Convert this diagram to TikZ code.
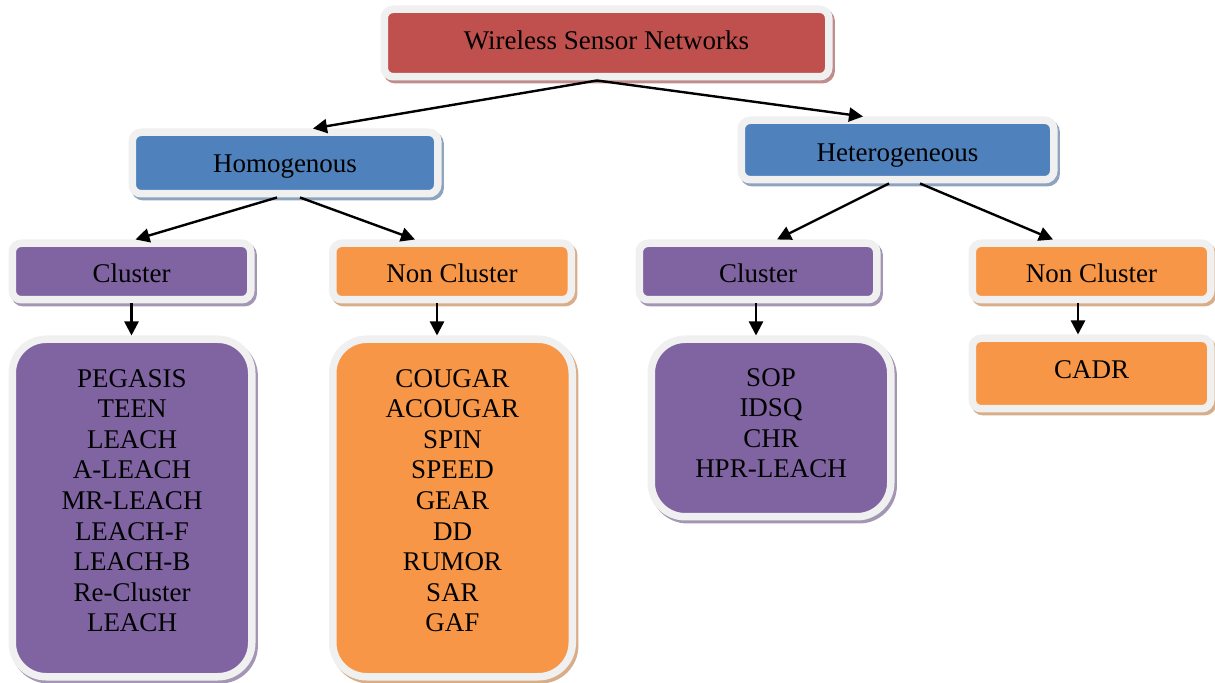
\documentclass[tikz,border=0pt]{standalone}
\usepackage{fontspec}
\setmainfont{Liberation Serif}
\usetikzlibrary{arrows.meta,calc}
\definecolor{wsnred}{HTML}{C0504D}
\definecolor{wsnblue}{HTML}{4F81BD}
\definecolor{wsnpurple}{HTML}{8064A2}
\definecolor{wsnorange}{HTML}{F79646}
\definecolor{wsnframe}{HTML}{F0F0F0}
\newcommand\padbelow[1]{\rule[-#1]{0pt}{#1}}
\begin{document}
\begin{tikzpicture}[x=0.5pt,y=-0.5pt,
	box/.style={draw=wsnframe,line width=3.75pt,fill=#1,inner sep=0pt,align=center,
		font=\fontsize{13.5}{15.3}\selectfont,
		preaction={draw=#1!45!lightgray,line width=3.75pt,transform canvas={xshift=1.2pt,yshift=-1.5pt}}},
	tag/.style={box=#1,rounded corners=4.5pt,minimum width=119.25pt,minimum height=28.25pt,text height=12.4pt,text depth=1pt},
	listbox/.style={box=#1,rounded corners=17pt,minimum width=119.75pt},
	arr/.style={-{Triangle[length=7pt,width=7pt]},line width=1.2pt}]
				\useasboundingbox (0,0) rectangle (1215,683);
				% top level
				\node[tag=wsnred,minimum width=222.25pt,minimum height=33.75pt,text height=9.9pt,text depth=3pt] (wsn) at (606.5,43){Wireless Sensor Networks};
				\node[tag=wsnblue,minimum width=152.75pt,minimum height=30.75pt,text height=11pt,text depth=1.1pt] (homo) at (285,163){Homogenous};
				\node[tag=wsnblue,minimum width=156.25pt,minimum height=29.75pt] (hetero) at (897.5,150){Heterogeneous};
				% second level
				\node[tag=wsnpurple] (homcl) at (131.5,271.5){Cluster};
				\node[tag=wsnorange] (homncl) at (452,271.5){Non Cluster};
				\node[tag=wsnpurple,minimum width=118.75pt] (hetcl) at (758,271.5){Cluster};
				\node[tag=wsnorange] (hetncl) at (1091.5,271.5){Non Cluster};
				% protocols
				\node[listbox=wsnpurple,minimum height=168.75pt] (homcllist) at (132,508)
					{PEGASIS\\TEEN\\LEACH\\A-LEACH\\MR-LEACH\\LEACH-F\\LEACH-B\\Re-Cluster\\LEACH\padbelow{7.5pt}};
				\node[listbox=wsnorange,minimum height=168.75pt] (homncllist) at (452.5,508)
					{COUGAR\\ACOUGAR\\SPIN\\SPEED\\GEAR\\DD\\RUMOR\\SAR\\GAF\padbelow{7.5pt}};
				\node[listbox=wsnpurple,minimum height=88.75pt] (hetcllist) at (771,428)
					{SOP\\IDSQ\\CHR\\HPR-LEACH\padbelow{5pt}};
				\node[tag=wsnorange,minimum height=35.25pt,text height=8.4pt,text depth=3pt] (hetncllist) at (1091.5,373.5){CADR};
				% arrows
				\draw[arr] ($(wsn.south)+(-9.5,0)$)--($(homo.north)+(28,0)$);
				\draw[arr] ($(wsn.south)+(-9.5,0)$)--($(hetero.north)+(-34.5,0)$);
				\draw[arr] ($(homo.south)+(-8,0)$)--($(homcl.north)+(4,0)$);
				\draw[arr] ($(homo.south)+(15,0)$)--($(homncl.north)+(-37,0)$);
				\draw[arr] ($(hetero.south)+(-8.5,0)$)--($(hetcl.north)+(19,0)$);
				\draw[arr] ($(hetero.south)+(22.5,0)$)--($(hetncl.north)+(-38.5,0)$);
				\coordinate (a) at ($(homcl.south)+(0,0)$);
				\coordinate (b) at ($(homncl.south)+(-15,0)$);
				\coordinate (c) at ($(hetcl.south)+(-2,0)$);
				\coordinate (d) at ($(hetncl.south)+(-13.5,0)$);
				\draw[arr] (a)--(a |- homcllist.north);
				\draw[arr] (b)--(b |- homncllist.north);
				\draw[arr] (c)--(c |- hetcllist.north);
				\draw[arr] (d)--(d |- hetncllist.north);
			\end{tikzpicture}
\end{document}
